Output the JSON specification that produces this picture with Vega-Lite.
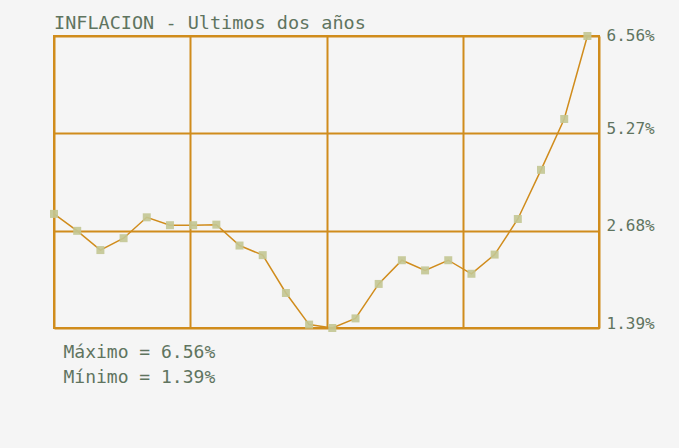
{
  "$schema": "https://vega.github.io/schema/vega-lite/v6.json",
  "width": 545,
  "height": 292,
  "autosize": {"type": "none"},
  "padding": {"left": 54, "top": 36, "right": 80, "bottom": 120},
  "background": "#f5f5f5",
  "config": {
    "view": {"stroke": "#d08c1c", "strokeWidth": 2, "fill": "#f5f5f5"},
    "font": "DejaVu Sans Mono"
  },
  "title": {
    "text": "INFLACION - Ultimos dos años",
    "anchor": "start",
    "frame": "group",
    "baseline": "bottom",
    "offset": -24,
    "font": "DejaVu Sans Mono",
    "fontSize": 18.5,
    "fontWeight": "normal",
    "color": "#5f745f"
  },
  "data": {
    "values": [
      {"mes": 0, "inflacion": 3.41},
      {"mes": 1, "inflacion": 3.11},
      {"mes": 2, "inflacion": 2.77},
      {"mes": 3, "inflacion": 2.98},
      {"mes": 4, "inflacion": 3.35},
      {"mes": 5, "inflacion": 3.21},
      {"mes": 6, "inflacion": 3.21},
      {"mes": 7, "inflacion": 3.22},
      {"mes": 8, "inflacion": 2.85},
      {"mes": 9, "inflacion": 2.68},
      {"mes": 10, "inflacion": 2.01},
      {"mes": 11, "inflacion": 1.45},
      {"mes": 12, "inflacion": 1.39},
      {"mes": 13, "inflacion": 1.56},
      {"mes": 14, "inflacion": 2.17},
      {"mes": 15, "inflacion": 2.59},
      {"mes": 16, "inflacion": 2.41},
      {"mes": 17, "inflacion": 2.59},
      {"mes": 18, "inflacion": 2.35},
      {"mes": 19, "inflacion": 2.69},
      {"mes": 20, "inflacion": 3.32},
      {"mes": 21, "inflacion": 4.19},
      {"mes": 22, "inflacion": 5.09},
      {"mes": 23, "inflacion": 6.56}
    ]
  },
  "encoding": {
    "x": {
      "field": "mes",
      "type": "quantitative",
      "scale": {"domain": [0, 23.5], "nice": false, "zero": false},
      "axis": {
        "orient": "bottom",
        "values": [0, 5.875, 11.75, 17.625, 23.5],
        "grid": true,
        "gridColor": "#d08c1c",
        "gridWidth": 2,
        "gridOpacity": 1,
        "labels": false,
        "ticks": false,
        "domain": false,
        "title": ["Máximo = 6.56%", "Mínimo = 1.39%"],
        "titleFont": "DejaVu Sans Mono",
        "titleFontSize": 18,
        "titleFontWeight": "normal",
        "titleColor": "#5f745f",
        "titleAnchor": "start",
        "titleAlign": "left",
        "titleBaseline": "alphabetic",
        "titleLineHeight": 25,
        "titleX": 9,
        "titleY": 29
      }
    },
    "y": {
      "field": "inflacion",
      "type": "quantitative",
      "scale": {"domain": [1.39, 6.56], "nice": false, "zero": false},
      "axis": {
        "orient": "right",
        "values": [1.39, 3.1133, 4.8367, 6.56],
        "grid": true,
        "gridColor": "#d08c1c",
        "gridWidth": 2,
        "gridOpacity": 1,
        "ticks": false,
        "domain": false,
        "labelExpr": "datum.value > 6 ? '6.56%' : datum.value > 4 ? '5.27%' : datum.value > 2 ? '2.68%' : '1.39%'",
        "labelFont": "DejaVu Sans Mono",
        "labelFontSize": 16,
        "labelColor": "#5f745f",
        "labelPadding": 7,
        "labelOffset": {"expr": "datum.value > 6 ? -1 : -5"},
        "labelBaseline": "middle",
        "title": null
      }
    }
  },
  "layer": [
    {
      "mark": {"type": "line", "color": "#d08c1c", "strokeWidth": 1.5}
    },
    {
      "mark": {"type": "point", "shape": "square", "filled": true, "size": 64, "color": "#c3c794", "opacity": 0.9}
    }
  ]
}
